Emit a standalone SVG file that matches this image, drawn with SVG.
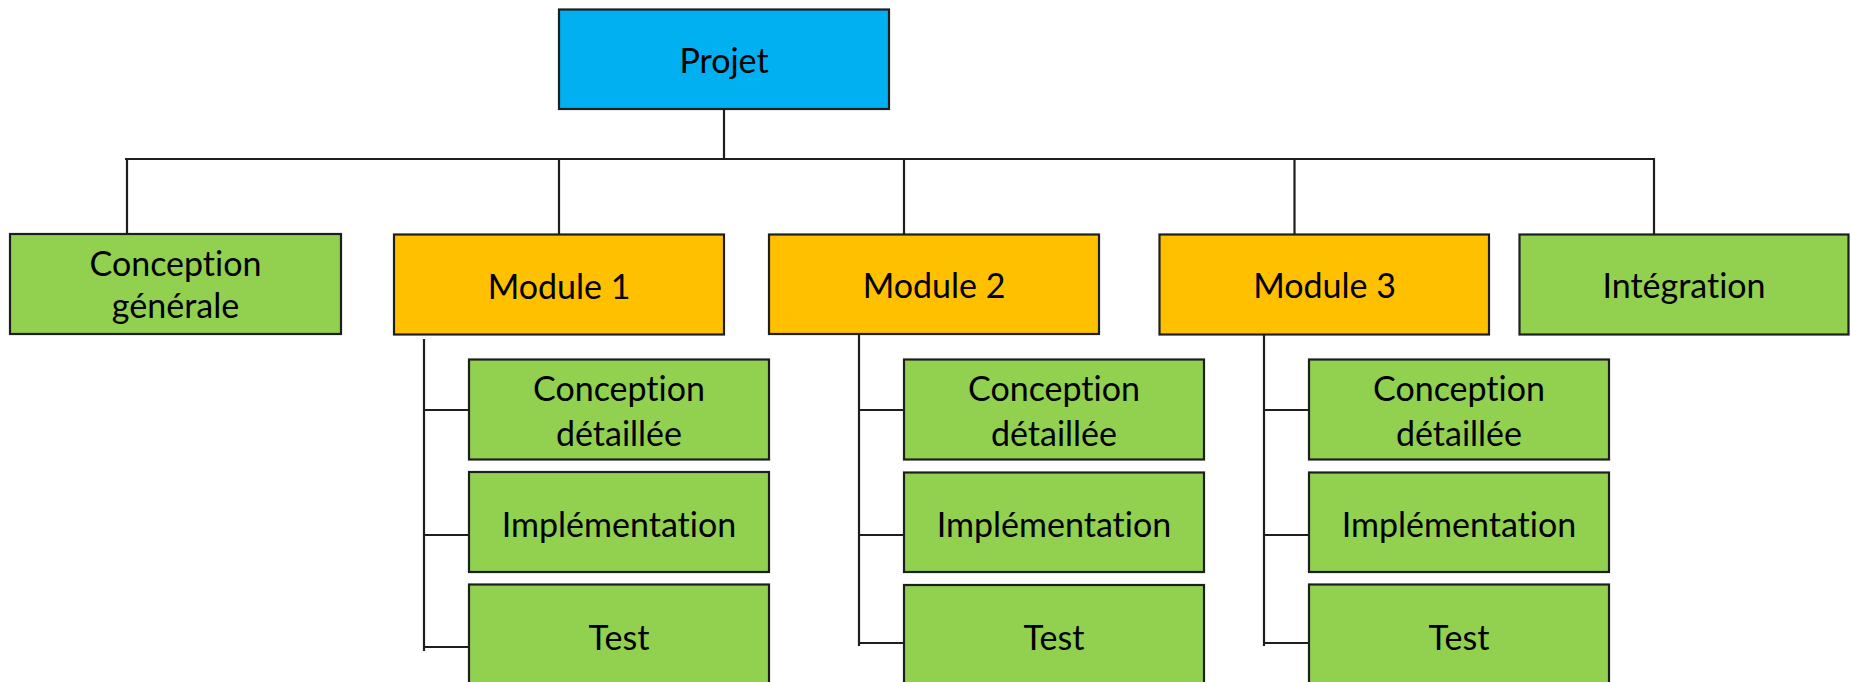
<svg xmlns="http://www.w3.org/2000/svg" width="1851" height="682" viewBox="0 0 1851 682">
  <style>
    .box { stroke: #1e1e1e; stroke-width: 2.2; }
    .blue { fill: #00B0F0; }
    .orange { fill: #FFC000; }
    .green { fill: #92D050; }
    .lbl { font-family: Lato, "Open Sans", sans-serif; font-size: 34px; fill: #000; text-anchor: middle; font-variant-ligatures: none; }
    .wire { stroke: #1e1e1e; stroke-width: 2.2; fill: none; }
  </style>
  <rect width="1851" height="682" fill="#ffffff"/>

  <!-- tree wiring -->
  <g id="connectors">
    <path class="wire" d="M724 109 V159 M125 159 H1655 M127 159 V234 M559 159 V234 M904 159 V234 M1294.5 159 V234 M1654 159 V234"/>
    <!-- Module 1 branches -->
    <path class="wire" d="M424 339 V651 M424 410 H469 M424 535 H469 M424 647 H469"/>
    <!-- Module 2 branches -->
    <path class="wire" d="M859 334 V646 M859 410 H904 M859 535 H904 M859 643 H904"/>
    <!-- Module 3 branches -->
    <path class="wire" d="M1264 334 V646 M1264 410 H1309 M1264 535 H1309 M1264 643 H1309"/>
  </g>

  <g id="projet">
    <rect class="box blue" x="559" y="9.5" width="330" height="99.5"/>
    <text class="lbl" x="724" y="72.5">Projet</text>
  </g>

  <g id="conception-generale">
    <rect class="box green" x="10" y="234" width="331" height="100"/>
    <text class="lbl" x="175.5" y="276">Conception</text>
    <text class="lbl" x="175.5" y="318">générale</text>
  </g>

  <g id="module-1">
    <rect class="box orange" x="394" y="234.5" width="330" height="100"/>
    <text class="lbl" x="559" y="298.5">Module 1</text>
  </g>

  <g id="module-2">
    <rect class="box orange" x="769" y="234.5" width="330" height="99.5"/>
    <text class="lbl" x="934" y="298">Module 2</text>
  </g>

  <g id="module-3">
    <rect class="box orange" x="1159.5" y="234.5" width="329.5" height="100"/>
    <text class="lbl" x="1324.5" y="298">Module 3</text>
  </g>

  <g id="integration">
    <rect class="box green" x="1519.5" y="234.5" width="329" height="100"/>
    <text class="lbl" x="1684" y="297.5">Intégration</text>
  </g>

  <!-- Module 1 tasks -->
  <g id="m1-conception-detaillee">
    <rect class="box green" x="469" y="359.5" width="300" height="100"/>
    <text class="lbl" x="619" y="400.5">Conception</text>
    <text class="lbl" x="619" y="446">détaillée</text>
  </g>
  <g id="m1-implementation">
    <rect class="box green" x="469" y="472" width="300" height="100"/>
    <text class="lbl" x="619" y="537">Implémentation</text>
  </g>
  <g id="m1-test">
    <rect class="box green" x="469" y="584.5" width="300" height="100"/>
    <text class="lbl" x="619" y="649.5">Test</text>
  </g>

  <!-- Module 2 tasks -->
  <g id="m2-conception-detaillee">
    <rect class="box green" x="904" y="359.5" width="300" height="100"/>
    <text class="lbl" x="1054" y="400.5">Conception</text>
    <text class="lbl" x="1054" y="446">détaillée</text>
  </g>
  <g id="m2-implementation">
    <rect class="box green" x="904" y="472.5" width="300" height="99.5"/>
    <text class="lbl" x="1054" y="537">Implémentation</text>
  </g>
  <g id="m2-test">
    <rect class="box green" x="904" y="585" width="300" height="100"/>
    <text class="lbl" x="1054" y="649.5">Test</text>
  </g>

  <!-- Module 3 tasks -->
  <g id="m3-conception-detaillee">
    <rect class="box green" x="1309" y="359.5" width="300" height="100"/>
    <text class="lbl" x="1459" y="400.5">Conception</text>
    <text class="lbl" x="1459" y="446">détaillée</text>
  </g>
  <g id="m3-implementation">
    <rect class="box green" x="1309" y="472.5" width="300" height="99.5"/>
    <text class="lbl" x="1459" y="537">Implémentation</text>
  </g>
  <g id="m3-test">
    <rect class="box green" x="1309" y="584.5" width="300" height="100"/>
    <text class="lbl" x="1459" y="649.5">Test</text>
  </g>
</svg>
